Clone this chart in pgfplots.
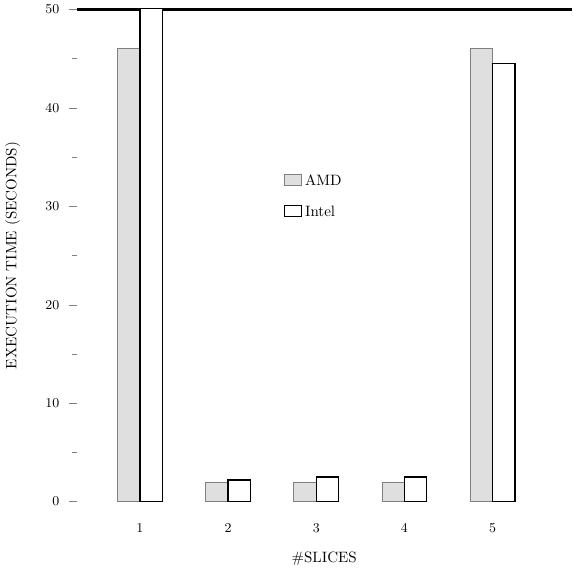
\documentclass[border=0pt]{standalone}
\usepackage{pgfplots}
\pgfplotsset{compat=1.18}

\begin{document}
\begin{tikzpicture}
\begin{axis}[
    scale only axis,
    width=330pt,
    height=328pt,
    ybar=0pt,
    bar width=15pt,
    xmin=0.28, xmax=5.9,
    ymin=0, ymax=50,
    xtick={1,2,3,4,5},
    ytick={0,10,20,30,40,50},
    minor y tick num=1,
    tick pos=left,
    tick align=outside,
    major tick length=5pt,
    minor tick length=3pt,
    xtick style={draw=none},
    axis line style={draw=none},
    extra y ticks={50},
    extra y tick labels={},
    extra y tick style={grid=major, major grid style={black, line width=1.6pt}},
    tick label style={font=\small},
    yticklabel style={xshift=-3pt},
    xticklabel style={yshift=-6pt},
    label style={font=\normalsize},
    xlabel style={yshift=-6pt},
    ylabel={EXECUTION TIME (SECONDS)},
    xlabel={\#SLICES},
    legend style={draw=none, fill=none, font=\normalsize,
        at={(0.48,0.62)}, anchor=center, row sep=8pt},
    legend image code/.code={\draw[#1] (0cm,-0.1cm) rectangle (0.4cm,0.15cm);},
    legend cell align=left,
]
\addplot[draw=gray, fill=gray!25] coordinates {(1,46) (2,2) (3,2) (4,2) (5,46)};
\addplot[draw=black, fill=white, line width=0.8pt] coordinates {(1,60) (2,2.2) (3,2.5) (4,2.5) (5,44.5)};
\legend{AMD, Intel}
\end{axis}
\end{tikzpicture}
\end{document}
